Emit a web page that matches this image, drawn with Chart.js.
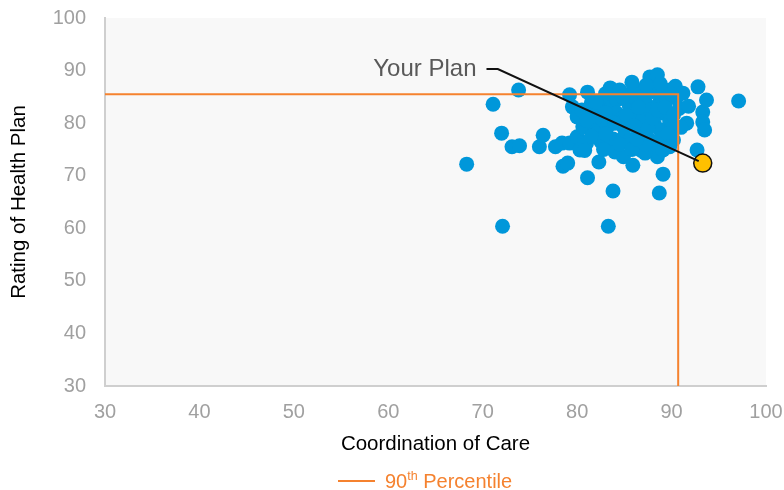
<!DOCTYPE html>
<html lang="en">
<head>
    <meta charset="UTF-8">
    <title>Coordination of Care vs Rating of Health Plan</title>
    <script src="https://cdn.jsdelivr.net/npm/chart.js"></script>
    <style>
        html, body { margin: 0; padding: 0; background: #ffffff; }
        #wrap { width: 784px; height: 490px; }
    </style>
</head>
<body>
    <div id="wrap"><canvas id="planChart" width="784" height="490"></canvas></div>

    <script>
        // all plans: coordination of care score (x) and health plan rating (y)
        const coordination = [
            68.3, 71.1, 72.0, 73.8, 73.1, 73.9, 72.1, 76.0, 76.4, 77.7,
            78.4, 78.5, 79.0, 79.2, 79.5, 79.2, 80.0, 80.6, 80.6, 80.0,
            81.1, 81.0, 81.1, 81.4, 81.5, 81.8, 82.1, 82.1, 82.3, 82.5,
            82.7, 82.7, 83.0, 83.2, 83.3, 83.5, 83.5, 83.6, 83.8, 83.8,
            84.0, 84.2, 84.2, 84.5, 84.7, 84.9, 84.9, 85.0, 85.3, 85.5,
            85.6, 85.9, 86.0, 86.2, 86.3, 86.5, 86.5, 86.8, 87.0, 87.0,
            87.2, 87.4, 87.7, 87.7, 87.8, 88.0, 88.0, 88.2, 88.5, 88.5,
            88.6, 88.7, 88.8, 89.0, 89.1, 89.1, 89.1, 89.5, 89.8, 89.8,
            90.0, 90.2, 90.4, 90.5, 90.8, 91.2, 91.6, 91.8, 92.7, 92.8,
            93.3, 93.3, 93.5, 93.7, 97.1, 80.3, 87.2, 80.5, 81.0, 82.0,
            83.0, 84.0, 85.2, 86.0, 86.5, 87.5, 88.0, 88.5, 89.3, 90.2,
            90.0, 88.8, 87.3, 85.8, 84.8, 83.0, 84.5, 85.8, 87.2, 88.8,
            89.6, 91.0, 86.3, 82.8, 81.5, 80.8, 89.8
        ];
        const rating = [
            72.2, 83.6, 78.1, 86.3, 75.5, 75.7, 60.4, 75.5, 77.7, 75.5,
            76.2, 71.8, 72.4, 85.4, 83.1, 76.2, 77.4, 79.3, 76.2, 81.2,
            85.9, 76.2, 69.6, 81.9, 83.8, 79.8, 78.1, 82.5, 72.6, 76.5,
            84.4, 80.6, 85.6, 79.3, 60.4, 86.7, 75.7, 83.0, 67.1, 77.0,
            74.5, 84.4, 81.9, 86.3, 80.8, 73.6, 79.3, 77.5, 85.4, 83.5,
            76.8, 72.0, 86.5, 82.0, 84.4, 78.5, 80.5, 74.8, 81.0, 85.7,
            84.0, 77.4, 88.8, 82.5, 76.2, 86.0, 75.6, 79.8, 89.2, 73.6,
            83.6, 66.7, 78.7, 85.0, 81.9, 74.9, 70.3, 84.4, 86.3, 80.2,
            79.0, 76.8, 87.0, 84.8, 82.8, 85.7, 80.0, 83.2, 74.9, 86.9,
            82.1, 80.2, 78.7, 84.4, 84.2, 74.9, 74.3, 82.5, 80.5, 84.0,
            82.0, 80.0, 81.5, 79.5, 83.0, 79.0, 81.0, 82.5, 83.0, 81.5,
            85.5, 87.5, 87.2, 87.8, 85.0, 78.0, 76.0, 75.0, 76.0, 77.0,
            78.0, 79.2, 77.0, 75.0, 77.5, 74.8, 75.5
        ];

        // highlighted plan
        const yourPlanX = 93.3;
        const yourPlanY = 72.4;
        const yourPlanText = 'Your Plan';
        const yourPlanLabelAt = [70.4, 90.3];  // where the callout text ends
        const yourPlanElbowX = 71.6;

        // 90th percentile of both measures
        const p90Coordination = 90.7;
        const p90Rating = 85.5;

        const axisMin = 30;
        const axisMax = 100;
        const axisStep = 10;
        const xTitle = 'Coordination of Care';
        const yTitle = 'Rating of Health Plan';

        const ORANGE = '#F5822F';
        const BLUE = '#0097DA';
        const FONT = "'Liberation Sans', Arial, sans-serif";

        const plotBackground = {
            id: 'plotBackground',
            beforeDraw(chart) {
                const { ctx, chartArea: a } = chart;
                ctx.save();
                ctx.fillStyle = '#f8f8f8';
                ctx.fillRect(a.left, a.top, a.right - a.left, a.bottom - a.top);
                ctx.restore();
            }
        };

        // callout text with an elbow leader line to the highlighted plan
        const planCallout = {
            id: 'planCallout',
            afterDatasetsDraw(chart) {
                const { ctx, scales: { x, y } } = chart;
                const lx = x.getPixelForValue(yourPlanLabelAt[0]);
                const ly = y.getPixelForValue(yourPlanLabelAt[1]);
                const ex = x.getPixelForValue(yourPlanElbowX);
                const px = x.getPixelForValue(yourPlanX);
                const py = y.getPixelForValue(yourPlanY);
                ctx.save();
                ctx.font = '24px ' + FONT;
                ctx.fillStyle = '#595959';
                ctx.textAlign = 'right';
                ctx.textBaseline = 'middle';
                ctx.fillText(yourPlanText, lx - 10, ly);
                ctx.strokeStyle = '#111111';
                ctx.lineWidth = 2;
                ctx.beginPath();
                ctx.moveTo(lx, ly);
                ctx.lineTo(ex, ly);
                ctx.lineTo(px - 4, py - 2);
                ctx.stroke();
                ctx.restore();
            }
        };

        // legend entry with superscript ordinal
        const percentileLegend = {
            id: 'percentileLegend',
            afterDraw(chart) {
                const ctx = chart.ctx;
                const y0 = 481;
                let x0 = 338;
                ctx.save();
                ctx.strokeStyle = ORANGE;
                ctx.lineWidth = 2;
                ctx.beginPath();
                ctx.moveTo(x0, y0);
                ctx.lineTo(x0 + 37, y0);
                ctx.stroke();
                x0 += 47;
                ctx.fillStyle = ORANGE;
                ctx.textBaseline = 'alphabetic';
                ctx.font = '20px ' + FONT;
                ctx.fillText('90', x0, y0 + 7);
                x0 += ctx.measureText('90').width;
                ctx.font = '12.5px ' + FONT;
                ctx.fillText('th', x0, y0 - 1);
                x0 += ctx.measureText('th').width;
                ctx.font = '20px ' + FONT;
                ctx.fillText(' Percentile', x0, y0 + 7);
                ctx.restore();
            }
        };

        // tick labels may overhang the plot edges; keep the plot area fixed
        function noOverhang(scale) {
            scale.paddingTop = 0;
            scale.paddingBottom = 0;
            scale.paddingLeft = 0;
            scale.paddingRight = 0;
        }

        const points = coordination.map((c, i) => ({ x: c, y: rating[i] }));

        new Chart(document.getElementById('planChart'), {
            type: 'scatter',
            data: {
                datasets: [
                    {
                        label: yourPlanText,
                        data: [{ x: yourPlanX, y: yourPlanY }],
                        backgroundColor: '#FFC000',
                        borderColor: '#111111',
                        borderWidth: 1.5,
                        pointRadius: 9
                    },
                    {
                        label: '90th Percentile',
                        data: [
                            { x: axisMin, y: p90Rating },
                            { x: p90Coordination, y: p90Rating },
                            { x: p90Coordination, y: axisMin }
                        ],
                        showLine: true,
                        borderColor: ORANGE,
                        borderWidth: 2,
                        pointRadius: 0,
                        tension: 0
                    },
                    {
                        label: 'Plans',
                        data: points,
                        backgroundColor: BLUE,
                        borderWidth: 0,
                        pointRadius: 7.5
                    }
                ]
            },
            options: {
                responsive: false,
                animation: false,
                layout: { padding: { left: 0, top: 18, right: 18, bottom: 33 } },
                plugins: {
                    legend: { display: false },
                    tooltip: { enabled: false }
                },
                scales: {
                    x: {
                        type: 'linear',
                        min: axisMin,
                        max: axisMax,
                        ticks: { stepSize: axisStep, color: '#a0a0a0', font: { family: FONT, size: 20 }, padding: 14 },
                        grid: { display: false, drawTicks: false },
                        border: { display: true, color: '#cfcfcf', width: 2 },
                        title: { display: true, text: xTitle, color: '#000000', font: { family: FONT, size: 20.5 }, padding: 0 },
                        afterFit(scale) { scale.height = 71; noOverhang(scale); }
                    },
                    y: {
                        type: 'linear',
                        min: axisMin,
                        max: axisMax,
                        ticks: { stepSize: axisStep, color: '#a0a0a0', font: { family: FONT, size: 20 }, padding: 19 },
                        grid: { display: false, drawTicks: false },
                        border: { display: true, color: '#cfcfcf', width: 2 },
                        title: { display: true, text: yTitle, color: '#000000', font: { family: FONT, size: 20.5 }, padding: { top: 7, bottom: 0 } },
                        afterFit(scale) { scale.width = 105; noOverhang(scale); }
                    }
                }
            },
            plugins: [plotBackground, planCallout, percentileLegend]
        });
    </script>
</body>
</html>
